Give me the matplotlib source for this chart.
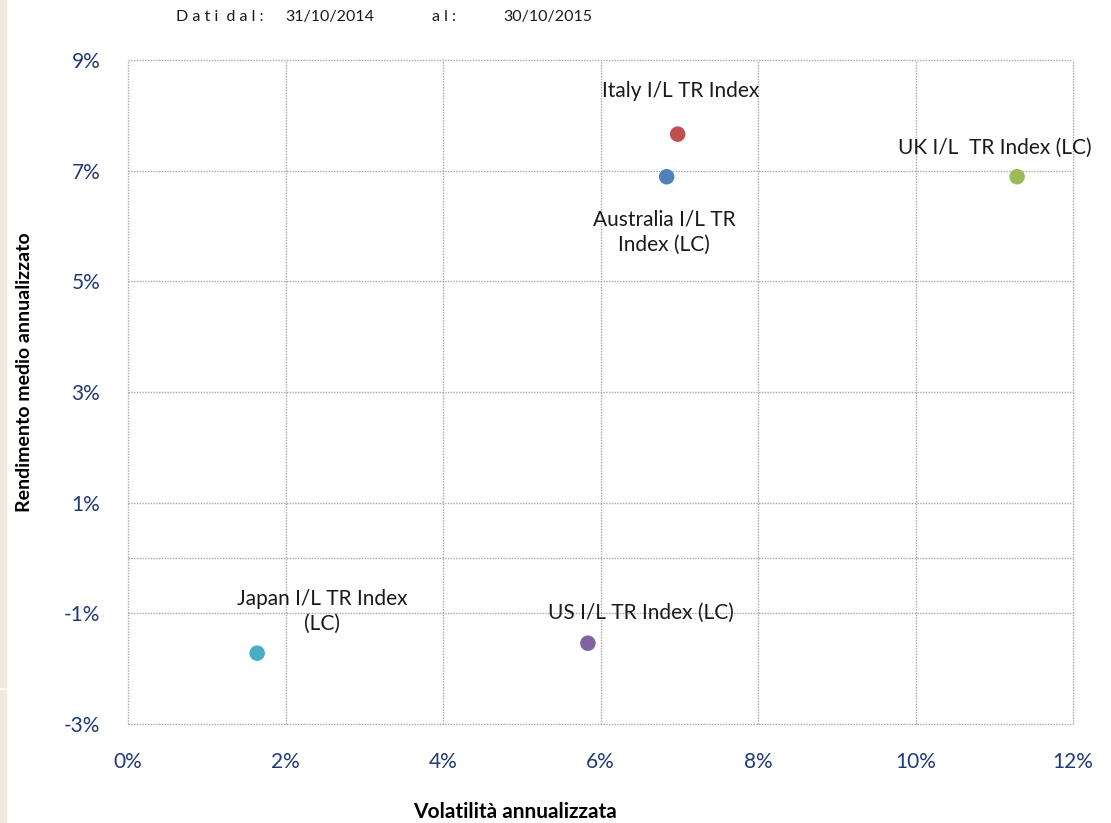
import matplotlib.pyplot as plt
from matplotlib.patches import Rectangle

plt.rcParams['font.family'] = ['Lato', 'DejaVu Sans']

# data (percent)
names = ["Italy I/L TR Index", "Australia I/L TR\nIndex (LC)", "UK I/L  TR Index (LC)",
         "Japan I/L TR Index\n(LC)", "US I/L TR Index (LC)"]
volat = [6.98, 6.84, 11.29, 1.64, 5.84]
rend = [7.66, 6.89, 6.89, -1.72, -1.54]
colors = ["#C0504D", "#4F81BD", "#9BBB59", "#4BACC6", "#8064A2"]
# label offsets in points (dx, dy)
offs = [(2, 31, 'center'), (-2, -40, 'center'), (-16, 21, 'center'), (47, 30, 'center'), (38, 22, 'center')]

xticks = [0, 2, 4, 6, 8, 10, 12]
yticks = [-3, -1, 1, 3, 5, 7, 9]

fig = plt.figure(figsize=(11.11, 8.23), dpi=100)
ax = fig.add_axes([128/1111, 1-724/823, (1073-128)/1111, (724-60)/823])

fig.patches.append(Rectangle((0, 0), 6/1111, 1-690/823, transform=fig.transFigure,
                             color="#EDEAE0", zorder=0))
fig.patches.append(Rectangle((0, 1-687/823), 6/1111, 687/823, transform=fig.transFigure,
                             color="#EDEAE0", zorder=0))

for sp in ax.spines.values():
    sp.set_visible(False)

gstyle = dict(color="#A6A6A6", linestyle=(0, (1, 1)), linewidth=1, zorder=1, clip_on=False)
for x in xticks:
    ax.axvline(x, **gstyle)
for y in yticks:
    ax.axhline(y, **gstyle)
ax.axhline(0, **gstyle)

ax.scatter(volat, rend, s=125, c=colors, zorder=3, linewidths=0)
for n, x, y, (dx, dy, ha) in zip(names, volat, rend, offs):
    ax.annotate(n, (x, y), xytext=(dx, dy), textcoords='offset points',
                ha=ha, va='center', fontsize=15, color="#1a1a1a", linespacing=1.35)

ax.set_xlim(0, 12)
ax.set_ylim(-3, 9)
ax.set_xticks(xticks)
ax.set_yticks(yticks)
ax.set_xticklabels([f"{v}%" for v in xticks])
ax.set_yticklabels([f"{v}%" for v in yticks])
ax.tick_params(length=0, labelsize=15, labelcolor="#1F3A78")
ax.tick_params(axis='y', pad=20)
ax.tick_params(axis='x', pad=20)

fig.text(515/1111, 1-812/823, "Volatilità annualizzata", ha='center', va='center',
         fontsize=15, fontweight='bold')
fig.text(25/1111, 1-372/823, "Rendimento medio annualizzato", ha='center', va='center',
         rotation=90, fontsize=14, fontweight='bold')

for txt, x in [("D a t i  d a l :", 176), ("31/10/2014", 285), ("a l :", 432), ("30/10/2015", 503)]:
    fig.text(x/1111, 1-17/823, txt, ha='left', va='center', fontsize=11.5, color="#1a1a1a")

fig.savefig("out.png", dpi=100)
